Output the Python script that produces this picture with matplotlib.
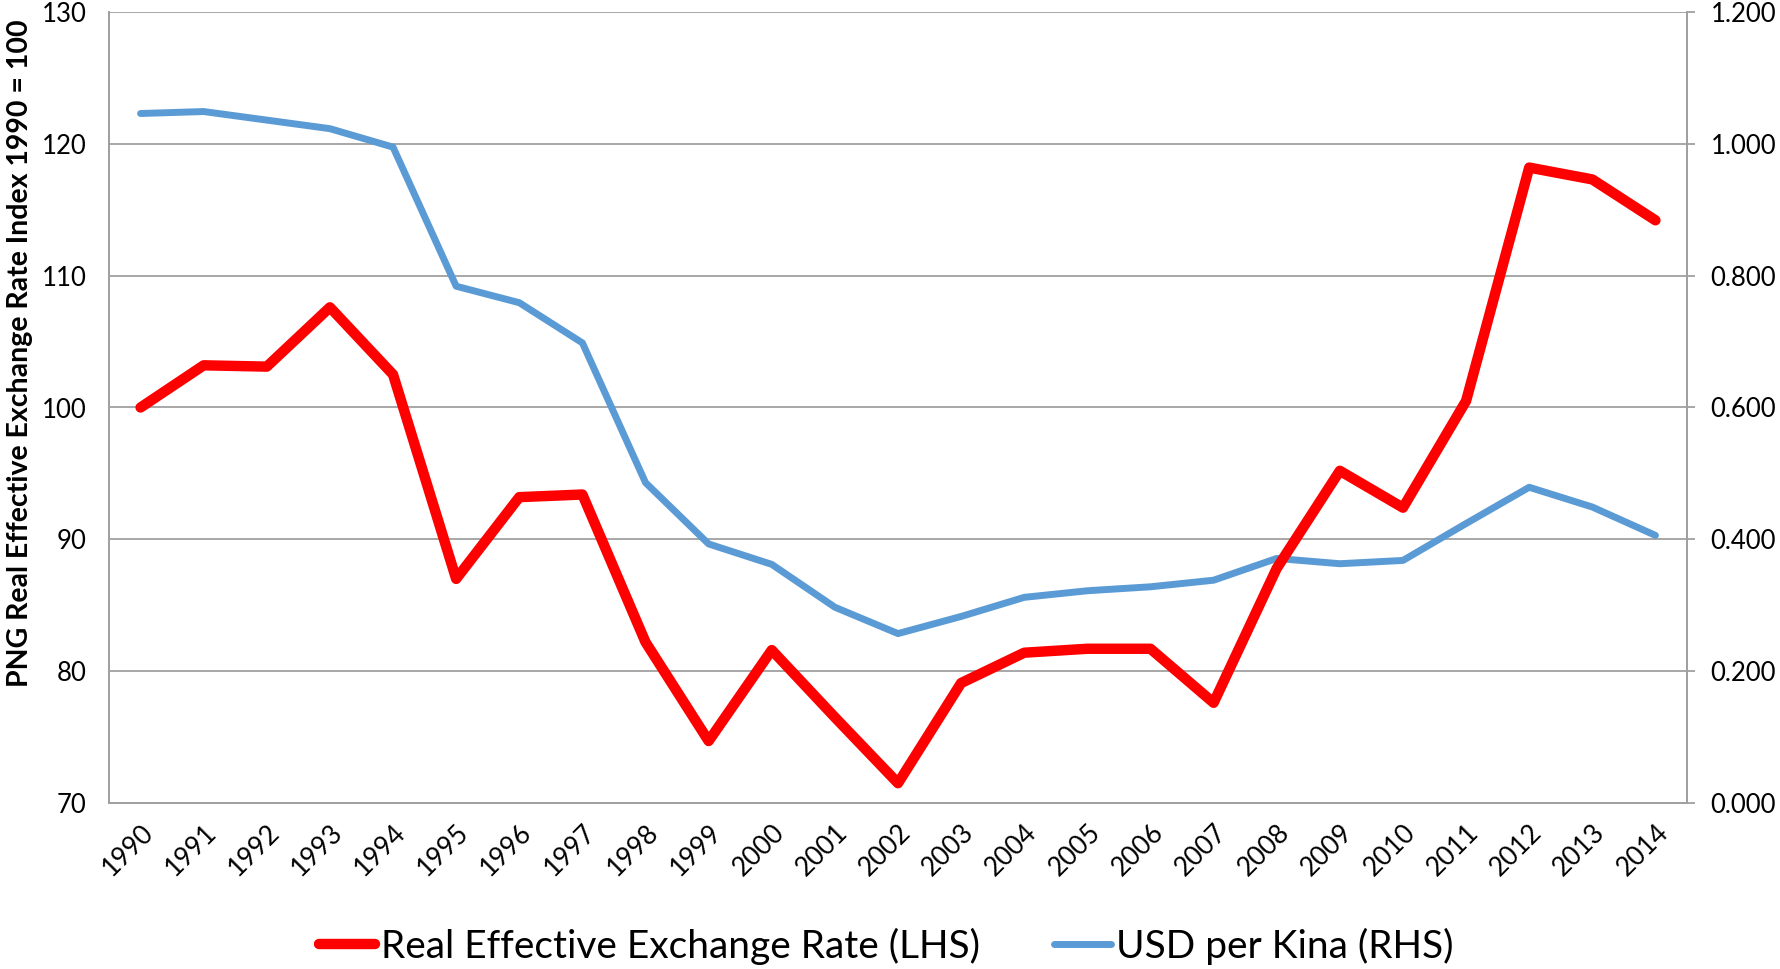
import matplotlib
matplotlib.use("Agg")
import matplotlib.pyplot as plt
import numpy as np

years = [str(y) for y in range(1990, 2015)]
reer = [100.0, 103.2, 103.1, 107.6, 102.5, 87.0, 93.2, 93.4, 82.2, 74.7,
        81.6, 76.5, 71.5, 79.1, 81.4, 81.7, 81.7, 77.6, 87.8, 95.2,
        92.4, 100.5, 118.2, 117.3, 114.2]
usd_per_kina = [1.046, 1.049, 1.036, 1.023, 0.995, 0.784, 0.759, 0.698, 0.486, 0.393,
                0.362, 0.297, 0.257, 0.283, 0.312, 0.322, 0.328, 0.338, 0.371, 0.363,
                0.368, 0.424, 0.479, 0.449, 0.406]
left_ticks = [70, 80, 90, 100, 110, 120, 130]
right_ticks = [0.0, 0.2, 0.4, 0.6, 0.8, 1.0, 1.2]

plt.rcParams['font.family'] = ['Lato', 'DejaVu Sans']
GRID = '#a0a0a0'

fig = plt.figure(figsize=(17.8, 9.69), dpi=100)
ax = fig.add_axes([109/1780, 1-803/969, (1687-109)/1780, (803-12)/969])
ax2 = ax.twinx()

x = np.arange(len(years))

# Blue on secondary (below), red on primary (above)
ax2.plot(x, usd_per_kina, color='#5b9bd5', lw=5.0, solid_capstyle='round',
         solid_joinstyle='round', label='USD per Kina (RHS)')
ax.plot(x, reer, color='#ff0000', lw=7.5, solid_capstyle='round',
        solid_joinstyle='round', label='Real Effective Exchange Rate (LHS)')

ax.set_zorder(ax2.get_zorder() + 1)
ax.patch.set_visible(False)

ax.set_xlim(-0.5, len(years) - 0.5)
ax.set_ylim(70, 130)
ax2.set_ylim(0, 1.2)
ax.set_yticks(left_ticks)
ax.set_yticklabels([str(v) for v in left_ticks])
ax2.set_yticks(right_ticks)
ax2.set_yticklabels([f"{v:.3f}" for v in right_ticks])

ax2.grid(axis='y', color=GRID, lw=1.3)
ax2.set_axisbelow(True)

ax.set_xticks(x)
ax.set_xticklabels(years)
for lab in ax.get_xticklabels():
    lab.set_rotation(45)
    lab.set_ha('right')
    lab.set_rotation_mode('anchor')

ax.tick_params(axis='x', length=0, pad=12, labelsize=19)
ax.tick_params(axis='y', length=0, pad=16, labelsize=18.5)
ax2.tick_params(axis='y', length=6, width=1.3, color=GRID, pad=11, labelsize=18.5)

for a in (ax, ax2):
    a.spines['top'].set_visible(False)
    for s in ('left', 'right', 'bottom'):
        a.spines[s].set_color(GRID)
        a.spines[s].set_linewidth(1.3)

ax.set_ylabel('PNG Real Effective Exchange Rate Index 1990 = 100',
              fontsize=20.5, fontweight='bold')
ax.yaxis.set_label_coords(-(109-33)/(1687-109), (803-353)/791)

h1, l1 = ax.get_legend_handles_labels()
h2, l2 = ax2.get_legend_handles_labels()
fig.legend(h1 + h2, l1 + l2, loc='center', bbox_to_anchor=(0.498, 1-946/969),
           ncol=2, frameon=False, fontsize=28, handlelength=1.45,
           handletextpad=0.15, columnspacing=1.9)

fig.savefig('out.png', dpi=100)
